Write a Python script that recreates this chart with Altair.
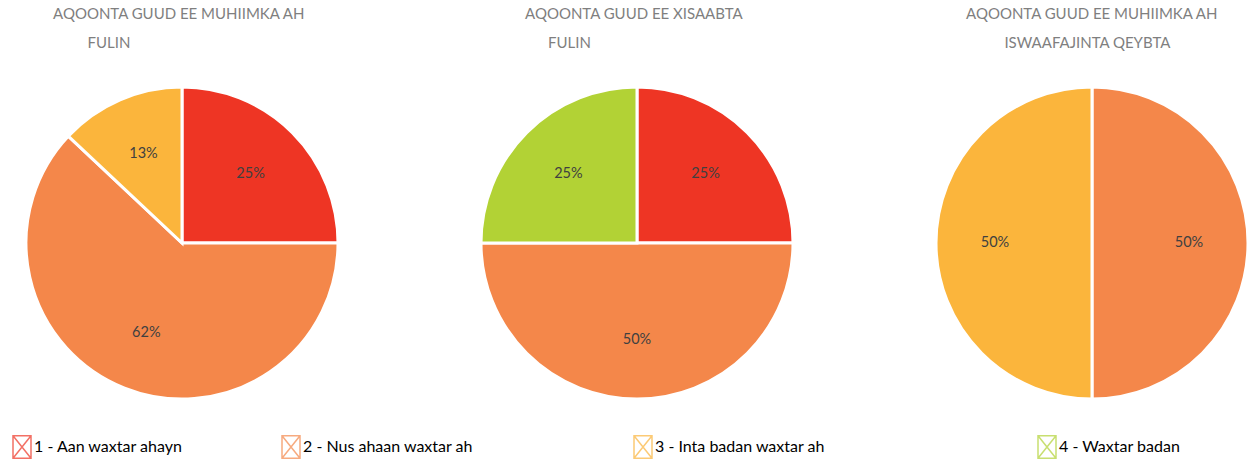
import altair as alt
import pandas as pd

categories = ["1 - Aan waxtar ahayn", "2 - Nus ahaan waxtar ah",
              "3 - Inta badan waxtar ah", "4 - Waxtar badan"]
colors = ["#EE3524", "#F4874A", "#FBB53C", "#B2D235"]

ZW = "\u200b"
titles = [
    ["AQOONTA GUUD EE MUHIIMKA AH", ZW + "\u00a0" * 9 + "FULIN"],
    ["AQOONTA GUUD EE XISAABTA", ZW + "\u00a0" * 6 + "FULIN"],
    ["AQOONTA GUUD EE MUHIIMKA AH", ZW + "\u00a0" * 10 + "ISWAAFAJINTA QEYBTA"],
]
title_dx = [28, 45, 31]

pie1_values = [25, 62, 13, 0]
pie2_values = [25, 50, 0, 25]
pie3_values = [0, 50, 50, 0]

# legend entry left offsets (relative to the first panel)
legend_x = [-15, 254, 606, 1010]

FONT = "Lato"
box_x = "M-0.8,-1H0.8V1H-0.8Z M-0.8,-1L0.8,1 M0.8,-1L-0.8,1"


def legend_layer(i):
    return alt.Chart(pd.DataFrame({"cat": [categories[i]]})).mark_point(
        filled=False, shape=box_x, size=1
    ).encode(
        stroke=alt.Stroke(
            "cat:N",
            scale=alt.Scale(domain=[categories[i]], range=[colors[i]]),
            legend=alt.Legend(
                title=None, orient="none", legendX=legend_x[i], legendY=349,
                padding=0, symbolType=box_x, symbolSize=506, symbolStrokeWidth=1.5,
                labelFont=FONT, labelFontSize=16, labelColor="#000000",
                labelOffset=0, labelLimit=400,
            ),
        )
    )


def make_pie(values, title, dx, with_legend=False):
    df = pd.DataFrame({"cat": categories, "value": values, "idx": range(4)})
    df = df[df["value"] > 0]
    df["label"] = df["value"].astype(int).astype(str) + "%"
    base = alt.Chart(df).encode(
        theta=alt.Theta("value:Q", stack=True),
        order=alt.Order("idx:Q"),
    )
    arcs = base.mark_arc(radius=156, stroke="white", strokeWidth=3).encode(
        fill=alt.Fill("cat:N", scale=alt.Scale(domain=categories, range=colors), legend=None)
    )
    labels = base.mark_text(radius=97, fontSize=14.5, font=FONT, color="#404040").encode(
        text="label:N"
    )
    layers = [legend_layer(i) for i in range(4)] if with_legend else []
    layers += [arcs, labels]
    ch = alt.layer(*layers).properties(
        width=314, height=314,
        title=alt.TitleParams(
            text=title, anchor="start", frame="group", dx=dx, fontSize=15, font=FONT,
            color="#7F7F7F", fontWeight="normal", lineHeight=29, offset=30,
        ),
    )
    if with_legend:
        ch = ch.resolve_scale(stroke="independent").resolve_legend(stroke="independent")
    return ch


chart = alt.hconcat(
    make_pie(pie1_values, titles[0], title_dx[0], with_legend=True),
    make_pie(pie2_values, titles[1], title_dx[1]),
    make_pie(pie3_values, titles[2], title_dx[2]),
    spacing=141,
    bounds="flush",
).properties(
    padding={"left": 10, "top": 7, "right": 0, "bottom": 0},
    background="white",
).configure_view(stroke=None)

chart.save("out.html", embed_options={"renderer": "svg", "actions": False})
